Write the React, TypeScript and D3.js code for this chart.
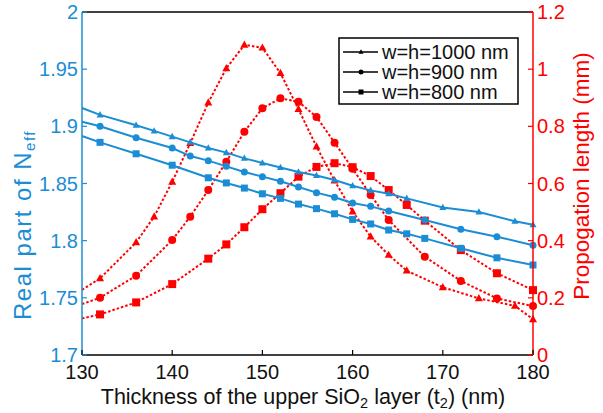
import React from "react";
import * as d3 from "d3";

// ---- data ----
const thick1000 = [130,132,136,138,140,142,144,146,148,150,152,154,156,158,160,162,164,166,170,174,178,180];
const neff1000 = [1.916,1.910,1.901,1.896,1.891,1.886,1.881,1.877,1.872,1.868,1.864,1.860,1.857,1.853,1.848,1.844,1.841,1.837,1.829,1.825,1.817,1.814];
const prop1000 = [0.228,0.268,0.394,0.484,0.606,0.741,0.883,1.003,1.085,1.075,0.986,0.860,0.729,0.610,0.502,0.414,0.350,0.295,0.237,0.198,0.172,0.125];

const thick900 = [130,132,136,140,142,144,146,148,150,152,154,156,158,160,162,164,168,172,176,180];
const neff900 = [1.904,1.900,1.890,1.881,1.874,1.870,1.865,1.860,1.856,1.852,1.847,1.842,1.838,1.833,1.830,1.826,1.818,1.810,1.8035,1.796];
const prop900 = [0.178,0.2005,0.2775,0.402,0.484,0.577,0.676,0.781,0.863,0.898,0.886,0.833,0.743,0.652,0.560,0.472,0.344,0.259,0.198,0.171];

const thick800 = [130,132,136,140,144,146,148,150,152,154,156,158,160,162,164,166,168,172,176,180];
const neff800 = [1.8915,1.886,1.876,1.866,1.855,1.8505,1.846,1.841,1.837,1.832,1.828,1.8235,1.8186,1.8146,1.8093,1.806,1.802,1.7933,1.785,1.7787];
const prop800 = [0.128,0.142,0.184,0.248,0.337,0.387,0.447,0.510,0.566,0.624,0.658,0.671,0.657,0.626,0.577,0.525,0.470,0.367,0.286,0.227];

const xTicks = [130,140,150,160,170,180];
const leftTicks = [1.7,1.75,1.8,1.85,1.9,1.95,2];
const rightTicks = [0,0.2,0.4,0.6,0.8,1,1.2];
const legendLabels = ["w=h=1000 nm","w=h=900 nm","w=h=800 nm"];

type Shape = "triangle" | "circle" | "square";
const series: { x: number[]; neff: number[]; prop: number[]; shape: Shape }[] = [
  { x: thick1000, neff: neff1000, prop: prop1000, shape: "triangle" },
  { x: thick900, neff: neff900, prop: prop900, shape: "circle" },
  { x: thick800, neff: neff800, prop: prop800, shape: "square" },
];

const BLUE = "#1b8dd4";
const RED = "#ff0000";
const FONT = "'Liberation Sans', Arial, sans-serif";

const W = 603, H = 413;
const L = 82, R = 533, T = 12, B = 355;

function Marker({ shape, cx, cy, s, fill }: { shape: Shape; cx: number; cy: number; s: number; fill: string }) {
  if (shape === "circle") return <circle cx={cx} cy={cy} r={s / 2} fill={fill} />;
  if (shape === "square") return <rect x={cx - s / 2} y={cy - s / 2} width={s} height={s} fill={fill} />;
  const h = s * 0.9;
  return <path d={`M${cx},${cy - h * 0.6}L${cx + s / 2},${cy + h * 0.4}L${cx - s / 2},${cy + h * 0.4}Z`} fill={fill} />;
}

export default function App() {
  const x = d3.scaleLinear().domain([130, 180]).range([L, R]);
  const yL = d3.scaleLinear().domain([1.7, 2]).range([B, T]);
  const yR = d3.scaleLinear().domain([0, 1.2]).range([B, T]);

  return (
    <svg width={W} height={H} style={{ position: "absolute", left: 0, top: 0, background: "#fff" }} fontFamily={FONT}>
      {/* red curves */}
      {series.map((s, i) => {
        const line = d3.line<number>().x((_, j) => x(s.x[j])).y((v) => yR(v));
        return (
          <g key={"r" + i}>
            <path d={line(s.prop) || ""} fill="none" stroke={RED} strokeWidth={2} strokeDasharray="2.5,2" />
            {s.prop.map((v, j) =>
              s.x[j] > 130 ? <Marker key={j} shape={s.shape} cx={x(s.x[j])} cy={yR(v)} s={8} fill={RED} /> : null
            )}
          </g>
        );
      })}
      {/* blue curves */}
      {series.map((s, i) => {
        const line = d3.line<number>().x((_, j) => x(s.x[j])).y((v) => yL(v));
        return (
          <g key={"b" + i}>
            <path d={line(s.neff) || ""} fill="none" stroke={BLUE} strokeWidth={2} />
            {s.neff.map((v, j) =>
              s.x[j] > 130 ? <Marker key={j} shape={s.shape} cx={x(s.x[j])} cy={yL(v)} s={7} fill={BLUE} /> : null
            )}
          </g>
        );
      })}

      {/* axes */}
      <line x1={L} y1={T} x2={R} y2={T} stroke="#000" strokeWidth={1.5} />
      <line x1={L} y1={B} x2={R} y2={B} stroke="#000" strokeWidth={1.5} />
      <line x1={L} y1={T} x2={L} y2={B} stroke={BLUE} strokeWidth={1.5} />
      <line x1={R} y1={T} x2={R} y2={B} stroke={RED} strokeWidth={1.5} />

      {xTicks.map((t) => (
        <g key={"x" + t}>
          <line x1={x(t)} x2={x(t)} y1={B} y2={B - 5} stroke="#000" strokeWidth={1.2} />
          <text x={x(t)} y={379} textAnchor="middle" fontSize={20} fill="#111">{t}</text>
        </g>
      ))}
      {leftTicks.map((t) => (
        <g key={"l" + t}>
          <line x1={L} x2={L + 5} y1={yL(t)} y2={yL(t)} stroke={BLUE} strokeWidth={1.2} />
          <text x={78} y={yL(t)} dy="0.35em" textAnchor="end" fontSize={20} fill={BLUE}>{String(t)}</text>
        </g>
      ))}
      {rightTicks.map((t) => (
        <g key={"r" + t}>
          <line x1={R} x2={R - 5} y1={yR(t)} y2={yR(t)} stroke={RED} strokeWidth={1.2} />
          <text x={537} y={yR(t)} dy="0.35em" textAnchor="start" fontSize={20} fill={RED}>{String(t)}</text>
        </g>
      ))}

      {/* axis titles */}
      <text x={303} y={404} textAnchor="middle" fontSize={21.5} fill="#111">
        Thickness of the upper SiO<tspan fontSize={14.5} dy={4}>2</tspan>
        <tspan dy={-4}> layer (t</tspan><tspan fontSize={14.5} dy={4}>2</tspan><tspan dy={-4}>) (nm)</tspan>
      </text>
      <text transform={`translate(31,225) rotate(-90)`} textAnchor="middle" fontSize={24} letterSpacing={1.5} fill={BLUE}>
        Real part of N<tspan fontSize={15} dy={4}>eff</tspan>
      </text>
      <text transform={`translate(589,176) rotate(-90)`} textAnchor="middle" fontSize={22.5} fill={RED}>
        Propogation length (mm)
      </text>

      {/* legend */}
      <rect x={339} y={38} width={179} height={66} fill="#fff" stroke="#000" strokeWidth={1.5} />
      {legendLabels.map((lab, i) => {
        const yy = 52 + i * 20;
        return (
          <g key={lab}>
            <line x1={343} x2={378} y1={yy} y2={yy} stroke="#000" strokeWidth={1.5} />
            <Marker shape={series[i].shape} cx={361} cy={yy} s={5} fill="#000" />
            <text x={382} y={yy} dy="0.36em" fontSize={20} fill="#111">{lab}</text>
          </g>
        );
      })}
    </svg>
  );
}
